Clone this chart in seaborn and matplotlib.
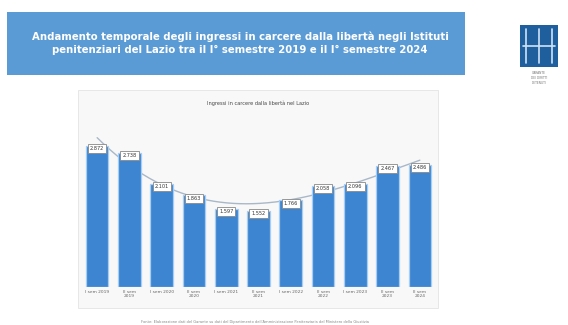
import numpy as np
import pandas as pd
import matplotlib
matplotlib.use("Agg")
import matplotlib.pyplot as plt
from matplotlib.patches import Rectangle
import seaborn as sns

categories = ["I sem 2019", "II sem\n2019", "I sem 2020", "II sem\n2020", "I sem 2021",
              "II sem\n2021", "I sem 2022", "II sem\n2022", "I sem 2023", "II sem\n2023",
              "II sem\n2024"]
values = [2872, 2738, 2101, 1863, 1597, 1552, 1766, 2058, 2096, 2467, 2486]
labels = ["2.872", "2.738", "2.101", "1.863", "1.597", "1.552", "1.766", "2.058", "2.096", "2.467", "2.486"]

title = ("Andamento temporale degli ingressi in carcere dalla libertà negli Istituti\n"
         "penitenziari del Lazio tra il I° semestre 2019 e il I° semestre 2024")
chart_title = "Ingressi in carcere dalla libertà nel Lazio"
source = ("Fonte: Elaborazione dati del Garante su dati del Dipartimento dell'Amministrazione "
          "Penitenziaria del Ministero della Giustizia")

sns.set_theme(style="white")
plt.rcParams['font.family'] = ['DejaVu Sans']

W, H = 568, 325
fig = plt.figure(figsize=(W / 100, H / 100), dpi=100)
fig.patch.set_facecolor("white")

def fx(px): return px / W
def fy(py): return 1 - py / H

# Banner
fig.patches.append(Rectangle((fx(7), fy(75)), fx(458), (75 - 12) / H, transform=fig.transFigure,
                             facecolor="#5b9bd5", edgecolor="none", zorder=-2))
fig.text(fx(240), fy(43.5), title, ha="center", va="center", color="white",
         fontsize=7.3, fontweight="bold", linespacing=1.35)

# Logo
fig.patches.append(Rectangle((fx(520), fy(67)), fx(38), 42 / H, transform=fig.transFigure,
                             facecolor="#1f5f9e", edgecolor="none", zorder=-2))
for x0 in [526, 539, 552]:
    fig.lines.append(plt.Line2D([fx(x0), fx(x0)], [fy(29), fy(63)], transform=fig.transFigure,
                                color="#cfe3f5", lw=1.2, zorder=-1))
fig.lines.append(plt.Line2D([fx(523), fx(555)], [fy(46), fy(46)], transform=fig.transFigure,
                            color="#cfe3f5", lw=1.2, zorder=-1))
for yy, t in zip([73, 78, 83], ["GARANTE", "DEI DIRITTI", "DETENUTI"]):
    fig.text(fx(539), fy(yy), t, ha="center", va="center", fontsize=2.2, color="#777777")

# Chart panel
fig.patches.append(Rectangle((fx(78), fy(308)), fx(360), (308 - 90) / H, transform=fig.transFigure,
                             facecolor="#f8f8f8", edgecolor="#e4e4e4", lw=0.6, zorder=-2))
fig.text(fx(258), fy(103), chart_title, ha="center", va="center", fontsize=3.6, color="#444444")

ax = fig.add_axes([fx(81), 38 / H, fx(355), 167 / H])
ax.set_zorder(2)
ax.patch.set_alpha(0)
df = pd.DataFrame({"cat": categories, "val": values})
sns.barplot(data=df, x="cat", y="val", color="#3d85d1", saturation=1, width=0.7, ax=ax,
            edgecolor="#a8cdf2", linewidth=0.9, zorder=2)
ax.set_xlim(-0.5, len(values) - 0.5)
ax.set_ylim(0, 3400)
ax.set_xlabel("")
ax.set_ylabel("")
ax.set_yticks([])
ax.tick_params(axis="x", labelsize=3.2, colors="#666666", length=0, pad=2)
for s in ax.spines.values():
    s.set_visible(False)

# Polynomial trend line (derived from the data)
xs = np.arange(len(values))
coef = np.polyfit(xs, values, 3)
xx = np.linspace(0, len(values) - 1, 200)
ax.plot(xx, np.polyval(coef, xx), color="#a9b8c8", lw=1.0, zorder=1)

for i, (v, lab) in enumerate(zip(values, labels)):
    ax.text(i, v - 60, lab, ha="center", va="center", fontsize=3.6, color="#333333", zorder=5,
            bbox=dict(boxstyle="square,pad=0.4", facecolor="white", edgecolor="#888888", lw=0.6))

fig.text(fx(255), fy(322), source, ha="center", va="center", fontsize=2.6, color="#888888")

fig.savefig("out.png", dpi=100)
